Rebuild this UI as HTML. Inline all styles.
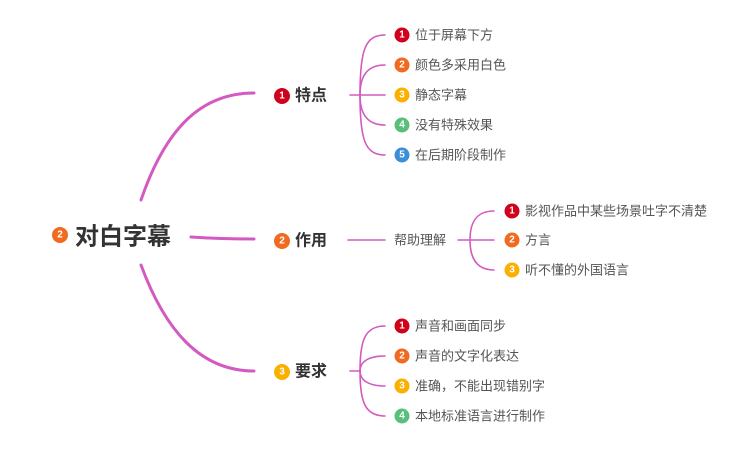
<!DOCTYPE html>
<html><head><meta charset="utf-8"><style>
html,body{margin:0;padding:0;background:#fff;}
svg{display:block;}
text{font-family:"Liberation Sans","Noto Sans CJK SC",sans-serif;}
.t{font-size:13px;fill:#555;dominant-baseline:central;}
.m{font-size:16px;font-weight:bold;fill:#333;dominant-baseline:central;}
.n{font-size:10px;font-weight:bold;fill:#fff;text-anchor:middle;dominant-baseline:central;}
</style></head><body>
<svg width="745" height="449" viewBox="0 0 745 449" xmlns="http://www.w3.org/2000/svg">
<g fill="none" stroke="#d35ac0" stroke-linecap="round">
<path d="M141 200 C165 130 200 93 254 93" stroke-width="3"/>
<path d="M191 237 Q220 239 254 239" stroke-width="3"/>
<path d="M141 265 C165 330 200 371 254 371" stroke-width="3"/>
<g stroke-width="1.6">
<path d="M350 95 L385 95"/>
<path d="M360 95 C360 50 365 35 385 35"/>
<path d="M360 95 C360 75 368 65 385 65"/>
<path d="M360 95 C360 115 368 125 385 125"/>
<path d="M360 95 C360 140 365 155 385 155"/>
<path d="M348 240 L385 240"/>
<path d="M458 240 L494 240"/>
<path d="M470 240 C470 220 478 211 494 211"/>
<path d="M470 240 C470 260 478 270 494 270"/>
<path d="M350 371 L360 371"/>
<path d="M360 371 C360 340 365 326 385 326"/>
<path d="M360 371 C360 362 368 356 385 356"/>
<path d="M360 371 C360 380 368 386 385 386"/>
<path d="M360 371 C360 402 365 416 385 416"/>
</g></g>
<circle cx="60" cy="235" r="8" fill="#f06a20"/><text class="n" x="60" y="235">2</text>
<text x="75" y="237" style="font-size:24px;font-weight:bold;fill:#333;dominant-baseline:central">对白字幕</text>

<circle cx="282" cy="96" r="8" fill="#d0021b"/><text class="n" x="282" y="96">1</text><text class="m" x="295" y="96">特点</text>
<circle cx="282" cy="241" r="8" fill="#f06a20"/><text class="n" x="282" y="241">2</text><text class="m" x="295" y="241">作用</text>
<circle cx="282" cy="372" r="8" fill="#fbb000"/><text class="n" x="282" y="372">3</text><text class="m" x="295" y="372">要求</text>

<circle cx="402" cy="35" r="7.5" fill="#d0021b"/><text class="n" x="402" y="35">1</text><text class="t" x="415" y="35">位于屏幕下方</text>
<circle cx="402" cy="65" r="7.5" fill="#f06a20"/><text class="n" x="402" y="65">2</text><text class="t" x="415" y="65">颜色多采用白色</text>
<circle cx="402" cy="95" r="7.5" fill="#fbb000"/><text class="n" x="402" y="95">3</text><text class="t" x="415" y="95">静态字幕</text>
<circle cx="402" cy="125" r="7.5" fill="#5abf7a"/><text class="n" x="402" y="125">4</text><text class="t" x="415" y="125">没有特殊效果</text>
<circle cx="402" cy="155" r="7.5" fill="#3a8fd6"/><text class="n" x="402" y="155">5</text><text class="t" x="415" y="155">在后期阶段制作</text>

<text class="t" x="394" y="240">帮助理解</text>
<circle cx="512" cy="211" r="7.5" fill="#d0021b"/><text class="n" x="512" y="211">1</text><text class="t" x="525" y="211">影视作品中某些场景吐字不清楚</text>
<circle cx="512" cy="240" r="7.5" fill="#f06a20"/><text class="n" x="512" y="240">2</text><text class="t" x="525" y="240">方言</text>
<circle cx="512" cy="270" r="7.5" fill="#fbb000"/><text class="n" x="512" y="270">3</text><text class="t" x="525" y="270">听不懂的外国语言</text>

<circle cx="402" cy="326" r="7.5" fill="#d0021b"/><text class="n" x="402" y="326">1</text><text class="t" x="415" y="326">声音和画面同步</text>
<circle cx="402" cy="356" r="7.5" fill="#f06a20"/><text class="n" x="402" y="356">2</text><text class="t" x="415" y="356">声音的文字化表达</text>
<circle cx="402" cy="386" r="7.5" fill="#fbb000"/><text class="n" x="402" y="386">3</text><text class="t" x="415" y="386">准确，不能出现错别字</text>
<circle cx="402" cy="416" r="7.5" fill="#5abf7a"/><text class="n" x="402" y="416">4</text><text class="t" x="415" y="416">本地标准语言进行制作</text>
</svg>
</body></html>
